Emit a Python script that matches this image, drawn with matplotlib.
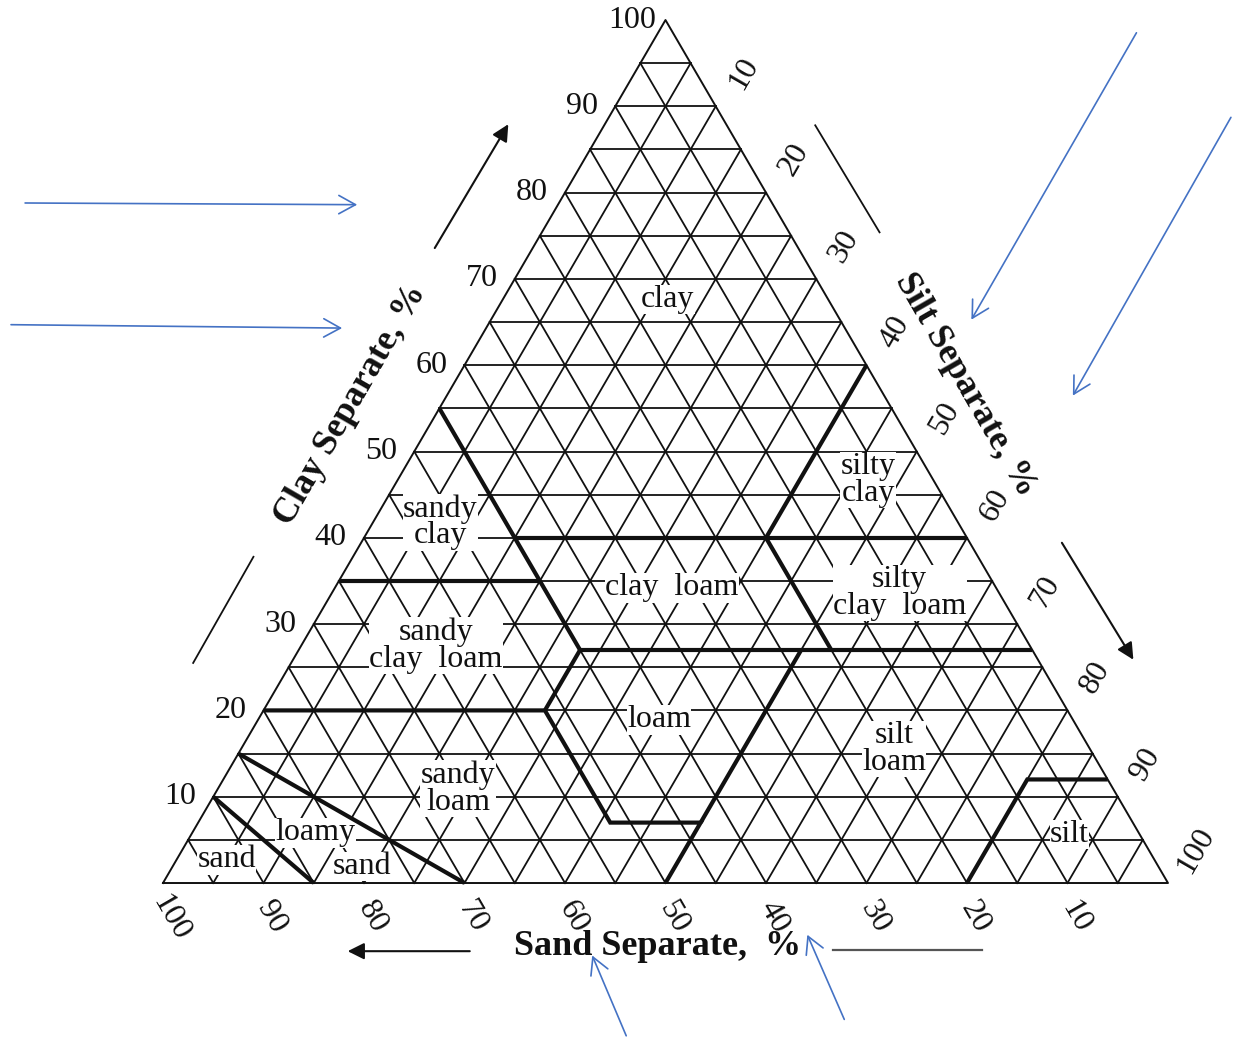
import matplotlib.pyplot as plt
import numpy as np

plt.rcParams["font.family"] = ["Liberation Serif", "DejaVu Serif"]

BLUE = "#4472C4"

GRID_STEP = 5
TICK_VALUES = [10, 20, 30, 40, 50, 60, 70, 80, 90, 100]

# USDA texture class boundaries as (sand, silt, clay) in %
BOUNDARIES = [
    [(85, 0, 15), (70, 30, 0)],
    [(90, 0, 10), (85, 15, 0)],
    [(80, 0, 20), (52, 28, 20), (52, 41, 7), (43, 50, 7), (50, 50, 0)],
    [(52, 28, 20), (45, 28, 27)],
    [(43, 50, 7), (23, 50, 27)],
    [(65, 0, 35), (45, 20, 35)],
    [(45, 0, 55), (45, 28, 27)],
    [(45, 15, 40), (0, 60, 40)],
    [(45, 28, 27), (0, 73, 27)],
    [(0, 40, 60), (20, 40, 40), (20, 53, 27)],
    [(0, 88, 12), (8, 80, 12), (20, 80, 0)],
]

CLASS_NAMES = ["clay", "silty\nclay", "sandy\nclay", "clay  loam",
               "silty\nclay  loam", "sandy\nclay  loam", "loam", "silt\nloam",
               "sandy\nloam", "loamy", "sand", "sand", "silt"]
CLASS_SILT = [16.4, 46.8, 6.7, 33.5, 56.5, 13.4, 39.9, 65.0, 23.9, 12.3, 5.0, 18.9, 87.4]
CLASS_CLAY = [67.6, 46.7, 41.8, 34.2, 33.6, 27.5, 18.9, 15.5, 10.9, 5.8, 2.7, 1.9, 5.6]


def to_xy(sand, silt, clay):
    return silt + clay / 2.0, clay


fig = plt.figure(figsize=(12.33, 10.38), dpi=100)
ax = fig.add_axes([0, 0, 1, 1])
ax.set_xlim(-16.22, 106.47)
ax.set_ylim(-17.96, 102.32)
ax.axis("off")

# 5 % grid for the three components
for k in np.arange(GRID_STEP, 100, GRID_STEP):
    for a, b in [(to_xy(100 - k, 0, k), to_xy(0, 100 - k, k)),
                 (to_xy(k, 0, 100 - k), to_xy(k, 100 - k, 0)),
                 (to_xy(0, k, 100 - k), to_xy(100 - k, k, 0))]:
        ax.plot([a[0], b[0]], [a[1], b[1]], color="#111111", lw=1.3, zorder=1)

corners = [to_xy(100, 0, 0), to_xy(0, 100, 0), to_xy(0, 0, 100), to_xy(100, 0, 0)]
ax.plot([c[0] for c in corners], [c[1] for c in corners], color="#111111", lw=1.4, zorder=2)

for line in BOUNDARIES:
    pts = [to_xy(*p) for p in line]
    ax.plot([p[0] for p in pts], [p[1] for p in pts], color="#111111", lw=3.0,
            solid_capstyle="butt", solid_joinstyle="miter", zorder=4)

for name, silt, clay in zip(CLASS_NAMES, CLASS_SILT, CLASS_CLAY):
    x, y = to_xy(100 - silt - clay, silt, clay)
    ax.text(x, y, name, fontsize=23, ha="center", va="center", linespacing=0.9,
            color="#111111", zorder=3,
            bbox=dict(facecolor="white", edgecolor="none", pad=0.3))

# component tick labels
for v in TICK_VALUES:
    x, y = to_xy(100 - v, 0, v)
    ax.text(x - 3.3, y, str(v), fontsize=23, ha="center", va="center", color="#111111")
    x, y = to_xy(0, v, 100 - v)
    ax.text(x + 2.8, y + 3.8, str(v), fontsize=23, ha="center", va="center",
            rotation=60, color="#111111")
    x, y = to_xy(v, 100 - v, 0)
    ax.text(x + 0.8, y - 4.0, str(v), fontsize=23, ha="center", va="center",
            rotation=-60, color="#111111")

ax.text(18.7, 55.4, "Clay Separate, %", fontsize=26, fontweight="bold",
        rotation=60, ha="center", va="center", color="#111111")
ax.text(79.8, 57.7, "Silt Separate, %", fontsize=26, fontweight="bold",
        rotation=-60, ha="center", va="center", color="#111111")
ax.text(49.2, -7.4, "Sand Separate,  %", fontsize=26, fontweight="bold",
        ha="center", va="center", color="#111111")

# direction arrows and guide strokes
black_arrow = dict(arrowstyle="-|>", mutation_scale=25, lw=1.5, color="#111111")
ax.annotate("", xy=(34.5, 88.2), xytext=(26.9, 73.3), arrowprops=black_arrow)
ax.annotate("", xy=(96.7, 25.6), xytext=(89.3, 39.7), arrowprops=black_arrow)
ax.annotate("", xy=(18.1, -7.9), xytext=(30.8, -7.9), arrowprops=black_arrow)
ax.plot([64.9, 71.3], [87.8, 75.4], color="#111111", lw=1.3)
ax.plot([3.0, 9.0], [25.5, 37.8], color="#111111", lw=1.3)
ax.plot([66.7, 81.5], [-7.8, -7.8], color="#555555", lw=1.6)

# blue call-out arrows
blue_arrow = dict(arrowstyle="->,head_length=0.4,head_width=0.22",
                  mutation_scale=30, lw=1.2, color=BLUE)
for start, end in [((-14.0, 78.8), (19.6, 78.6)),
                   ((-15.4, 64.7), (18.1, 64.3)),
                   ((97.0, 98.8), (80.3, 65.0)),
                   ((106.4, 89.0), (90.4, 56.2)),
                   ((46.2, -18.0), (42.6, -8.1)),
                   ((67.9, -16.1), (64.0, -5.7))]:
    ax.annotate("", xy=end, xytext=start, arrowprops=blue_arrow)

fig.savefig("out.png", dpi=100, facecolor="white")
